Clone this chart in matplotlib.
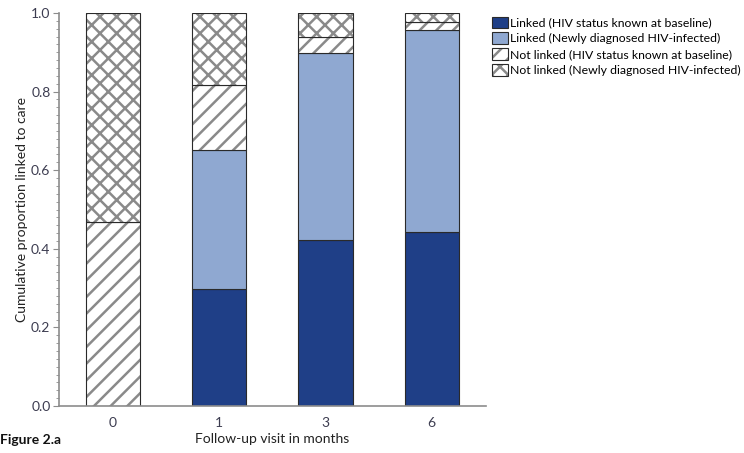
import numpy as np
import matplotlib.pyplot as plt
from matplotlib.patches import Patch
from matplotlib.legend_handler import HandlerTuple
from matplotlib.ticker import MultipleLocator

plt.rcParams['font.family'] = ['Lato', 'DejaVu Sans']
plt.rcParams['hatch.linewidth'] = 1.8

# cumulative proportion linked to care, by follow-up visit
visits = ['0', '1', '3', '6']
linked_known = [0.0, 0.297, 0.423, 0.443]
linked_new = [0.0, 0.355, 0.474, 0.513]
notlinked_known = [0.468, 0.166, 0.043, 0.022]
notlinked_new = [0.532, 0.182, 0.060, 0.022]

labels = ['Linked (HIV status known at baseline)',
          'Linked (Newly diagnosed HIV-infected)',
          'Not linked (HIV status known at baseline)',
          'Not linked (Newly diagnosed HIV-infected)']

dark_blue = '#1f3f87'
light_blue = '#8fa8d1'
hatch_grey = '#8a8a8a'
edge = '#2a2a2a'

fig = plt.figure(figsize=(7.44, 4.53), dpi=100)
ax = fig.add_axes([0.079, 0.1037, 0.574, 0.8676])

x = np.arange(len(visits))
w = 0.51
bottom = np.zeros(len(visits))

ax.bar(x, linked_known, w, bottom=bottom, color=dark_blue, edgecolor=edge, linewidth=0.8)
bottom += linked_known
ax.bar(x, linked_new, w, bottom=bottom, color=light_blue, edgecolor=edge, linewidth=0.8)
bottom += linked_new
ax.bar(x, notlinked_known, w, bottom=bottom, color='white', edgecolor=hatch_grey,
       hatch='//', linewidth=0)
ax.bar(x, notlinked_known, w, bottom=bottom, fill=False, edgecolor=edge, linewidth=0.8)
bottom += notlinked_known
ax.bar(x, notlinked_new, w, bottom=bottom, color='white', edgecolor=hatch_grey,
       hatch='xx', linewidth=0)
ax.bar(x, notlinked_new, w, bottom=bottom, fill=False, edgecolor=edge, linewidth=0.8)

ax.set_xlim(-0.51, 3.51)
ax.set_ylim(0, 1.0)
ax.set_xticks(x)
ax.set_xticklabels(visits)
ax.yaxis.set_major_locator(MultipleLocator(0.2))
ax.yaxis.set_minor_locator(MultipleLocator(0.02))
ax.yaxis.set_major_formatter(plt.FuncFormatter(lambda v, p: f'{v:.1f}'))

for s in ['top', 'right']:
    ax.spines[s].set_visible(False)
for s in ['left', 'bottom']:
    ax.spines[s].set_color('#8c8c8c')
    ax.spines[s].set_linewidth(1.2)
ax.tick_params(axis='y', which='major', length=4, color='#8c8c8c', labelsize=10,
               labelcolor='#3c3c50', pad=2)
ax.tick_params(axis='y', which='minor', length=2, color='#8c8c8c')
ax.tick_params(axis='x', length=0, labelsize=10, labelcolor='#3c3c50', pad=8)

ax.set_ylabel('Cumulative proportion linked to care', fontsize=10, color='#222222', labelpad=2)
ax.set_xlabel('Follow-up visit in months', fontsize=10, color='#222222', labelpad=3)
fig.text(0.0, 0.02, 'Figure 2.a', fontsize=10, fontweight='bold', color='#111111')

handles = [
    Patch(facecolor=dark_blue, edgecolor=edge, linewidth=0.8),
    Patch(facecolor=light_blue, edgecolor=edge, linewidth=0.8),
    (Patch(facecolor='white', edgecolor=hatch_grey, hatch='//', linewidth=0),
     Patch(fill=False, edgecolor=edge, linewidth=0.8)),
    (Patch(facecolor='white', edgecolor=hatch_grey, hatch='xx', linewidth=0),
     Patch(fill=False, edgecolor=edge, linewidth=0.8)),
]
fig.legend(handles, labels, loc='upper left', bbox_to_anchor=(0.661, 0.963),
           frameon=False, fontsize=8.8, handlelength=1.3, handleheight=1.1,
           handletextpad=0.2, labelspacing=0.3, borderpad=0, borderaxespad=0,
           handler_map={tuple: HandlerTuple(ndivide=1)})

fig.savefig('out.png', dpi=100)
